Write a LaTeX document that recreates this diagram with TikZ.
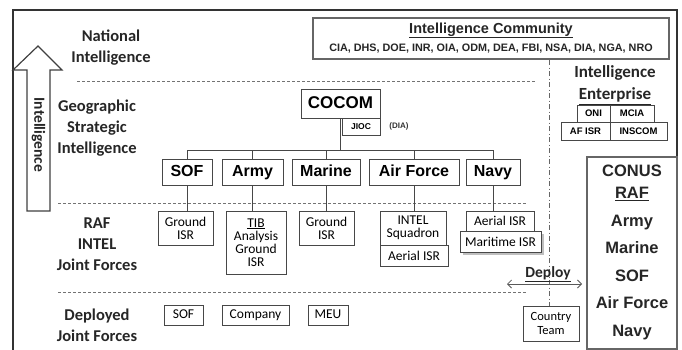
\documentclass[tikz,border=0pt]{standalone}
\usepackage{fontspec}
\setmainfont{Liberation Sans}
\newfontfamily\cfont{Carlito}
\usetikzlibrary{arrows.meta}
\begin{document}
\begin{tikzpicture}[x=1pt,y=-1pt,
  box/.style={draw=black!72, line width=0.9pt, inner sep=0pt, align=center, fill=white},
  branch/.style={box, minimum height=26pt, text height=12pt, text depth=3pt, font=\fontsize{16}{18}\selectfont\bfseries},
  small/.style={box, font=\cfont\fontsize{13.5}{13}\selectfont},
  deployed/.style={small, minimum height=20pt, text height=9.5pt, text depth=2.5pt, font=\cfont\fontsize{13.5}{14}\selectfont},
  tiny/.style={box, font=\fontsize{9.5}{10}\selectfont\bfseries},
  lab/.style={align=center, text=black!85, font=\cfont\bfseries\fontsize{16.5}{21}\selectfont},
  conus/.style={align=center, text=black!85, font=\fontsize{16.5}{27.5}\selectfont\bfseries},
  level/.style={draw=black!55, dash pattern=on 3pt off 2pt, line width=0.7pt},
  conn/.style={draw=black!72, line width=0.9pt}]
\useasboundingbox (0,0) rectangle (682,349);

% outer frame (open at the bottom)
\draw[line width=1.6pt, black!80] (13,352) -- (13,10) -- (677,10) -- (677,352);

% upward intelligence arrow
\draw[line width=1.2pt, black!75, fill=white]
  (27,211) -- (27,70) -- (13,70) -- (38,46) -- (62,70) -- (50,70) -- (50,211) -- cycle;
\node[rotate=-90, text=black!85, font=\cfont\bfseries\fontsize{15.5}{18}\selectfont] (arrowtxt) at (38.5,135) {Intelligence};

% level separators
\draw[level] (77,81) -- (535,81);
\draw[level] (58,203) -- (527,203);
\draw[level] (58,292) -- (527,292);
\draw[black!60, line width=0.8pt, dash pattern=on 5pt off 2.5pt on 1pt off 2.5pt] (549,60) -- (549,306);

% level labels
\node[lab] (lnat) at (111,47.5) {National\\Intelligence};
\node[lab] (lgeo) at (97,128) {Geographic\\Strategic\\Intelligence};
\node[lab] (lraf) at (97,244.5) {RAF\\INTEL\\Joint Forces};
\node[lab] (ldep) at (97,325.5) {Deployed\\Joint Forces};

% intelligence community
\node[box, line width=1.1pt, draw=black!60, minimum width=356pt, minimum height=41pt] (ic) at (491,38.5) {};
\node[font=\fontsize{14.5}{16}\selectfont\bfseries, text=black!85] (ictitle) at (491,30.5) {\underline{Intelligence Community}};
\node[font=\fontsize{10.8}{12}\selectfont\bfseries, text=black!85] (iclist) at (491,48.5) {CIA, DHS, DOE, INR, OIA, ODM, DEA, FBI, NSA, DIA, NGA, NRO};

% intelligence enterprise
\node[lab, font=\cfont\bfseries\fontsize{17}{22}\selectfont] (ent) at (615,85) {Intelligence\\\underline{Enterprise}};
\node[tiny, minimum width=33pt, minimum height=17pt] (oni) at (593.5,113.5) {ONI};
\node[tiny, minimum width=44pt, minimum height=17pt] (mcia) at (632,113.5) {MCIA};
\node[tiny, minimum width=49pt, minimum height=18pt] (afisr) at (585.5,131) {AF ISR};
\node[tiny, minimum width=57pt, minimum height=18pt] (inscom) at (638.5,131) {INSCOM};

% combatant command and components
\node[branch, minimum width=79pt, minimum height=29pt, font=\fontsize{17}{19}\selectfont\bfseries] (cocom) at (340.5,103.5) {COCOM};
\node[box, minimum width=38pt, minimum height=17pt, font=\fontsize{8.5}{9}\selectfont\bfseries] (jioc) at (361,126.5) {JIOC};
\node[font=\fontsize{8}{9}\selectfont\bfseries, text=black!80] (dia) at (399,126) {(DIA)};

\node[branch, minimum width=50pt] (sof) at (187,172) {SOF};
\node[branch, minimum width=61pt] (army) at (252.5,172) {Army};
\node[branch, minimum width=68pt] (marine) at (326,172) {Marine};
\node[branch, minimum width=90pt] (af) at (414,172) {Air Force};
\node[branch, minimum width=54pt] (navy) at (493,172) {Navy};

\coordinate (bus) at (340,150);
\draw[conn] (cocom.south) -- (cocom.south |- bus);
\draw[conn] (sof.north |- bus) -- (navy.north |- bus);
\foreach \b in {sof,army,marine,af,navy}
  \draw[conn] (\b.north) -- (\b.north |- bus);

% RAF intelligence elements
\node[small, minimum width=55pt, minimum height=34pt] (gsof) at (185.5,228) {Ground\\ISR};
\node[small, minimum width=60pt, minimum height=63pt] (tib) at (256,242.5) {\underline{TIB}\\Analysis\\Ground\\ISR};
\node[small, minimum width=55pt, minimum height=34pt] (gmar) at (326.5,228) {Ground\\ISR};
\node[small, minimum width=66pt, minimum height=34pt] (intel) at (413,228) {INTEL\\Squadron};
\node[small, minimum width=68pt, minimum height=21pt] (aeraf) at (414,255.5) {Aerial ISR};
\node[small, minimum width=68pt, minimum height=20pt] (aern) at (500,221) {Aerial ISR};
\fill[black!25] (462.5,233.5) rectangle (543.5,254.5);
\node[small, minimum width=81pt, minimum height=21pt] (mar) at (500.5,241.5) {Maritime ISR};

\draw[conn] (sof.south) -- (sof.south |- gsof.north);
\draw[conn] (army.south) -- (army.south |- tib.north);
\draw[conn] (marine.south) -- (marine.south |- gmar.north);
\draw[conn] (af.south) -- (af.south |- intel.north);
\draw[conn] (navy.south) -- (navy.south |- aern.north);

% deployed forces
\node[deployed, minimum width=39pt] (dsof) at (183.5,315) {SOF};
\node[deployed, minimum width=67pt] (comp) at (255.5,315) {Company};
\node[deployed, minimum width=40pt] (meu) at (328,315) {MEU};
\node[small, minimum width=56pt, minimum height=35pt, font=\cfont\fontsize{12.5}{14}\selectfont] (ct) at (551,323.5) {Country\\Team};

% deploy arrow
\coordinate (dl) at (507,284);
\coordinate (dr) at (582,284);
\draw[black!65, line width=0.8pt, {Straight Barb[length=4pt]}-{Straight Barb[length=4pt]}] (dl) -- (dr);
\node[font=\cfont\bfseries\fontsize{15.5}{16}\selectfont, text=black!85] (deploy) at (548,274.5) {\underline{Deploy}};

% CONUS regionally aligned forces
\node[box, draw=black!60, line width=1.1pt, minimum width=90pt, minimum height=192pt] (conusbox) at (632,253) {};
\node[conus, anchor=north] (conus) at (632,161) {CONUS\\[-5pt]\underline{RAF}\\Army\\Marine\\SOF\\Air Force\\Navy};
\end{tikzpicture}
\end{document}
